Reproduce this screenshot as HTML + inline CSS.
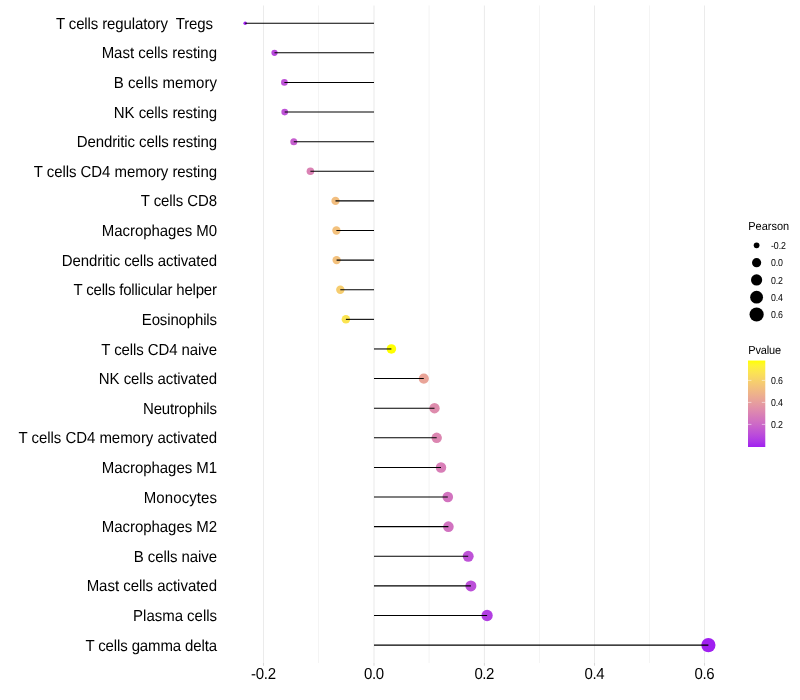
<!DOCTYPE html>
<html><head><meta charset="utf-8"><title>Lollipop</title>
<style>
html,body{margin:0;padding:0;background:#fff;}
body{width:800px;height:700px;overflow:hidden;}
svg{display:block;will-change:transform;}
text{font-family:"Liberation Sans",sans-serif;fill:#000;text-rendering:geometricPrecision;}
.ax{font-size:15px;}
.lt{font-size:11px;}
.ll{font-size:8.8px;}
</style></head><body>
<svg width="800" height="700" viewBox="0 0 800 700">
<defs><linearGradient id="g" x1="0" y1="0" x2="0" y2="1"><stop offset="0.000" stop-color="#FFFF00"/><stop offset="0.050" stop-color="#FEF530"/><stop offset="0.100" stop-color="#FCEB46"/><stop offset="0.150" stop-color="#FBE156"/><stop offset="0.200" stop-color="#F8D763"/><stop offset="0.250" stop-color="#F6CD6F"/><stop offset="0.300" stop-color="#F3C37A"/><stop offset="0.350" stop-color="#F0B984"/><stop offset="0.400" stop-color="#EDAF8E"/><stop offset="0.450" stop-color="#E9A597"/><stop offset="0.500" stop-color="#E59BA0"/><stop offset="0.550" stop-color="#E190A9"/><stop offset="0.600" stop-color="#DC86B1"/><stop offset="0.650" stop-color="#D67BB9"/><stop offset="0.700" stop-color="#D171C1"/><stop offset="0.750" stop-color="#CA66C9"/><stop offset="0.800" stop-color="#C35AD1"/><stop offset="0.850" stop-color="#BC4ED9"/><stop offset="0.900" stop-color="#B441E1"/><stop offset="0.950" stop-color="#AA33E8"/><stop offset="1.000" stop-color="#A020F0"/></linearGradient></defs>
<line x1="263.50" y1="5.5" x2="263.50" y2="663.0" stroke="#EBEBEB" stroke-width="1.07"/>
<line x1="263.50" y1="663.0" x2="263.50" y2="665.75" stroke="#D9D9D9" stroke-width="1.07"/>
<line x1="318.50" y1="5.5" x2="318.50" y2="663.0" stroke="#EBEBEB" stroke-width="0.53"/>
<line x1="374.00" y1="5.5" x2="374.00" y2="663.0" stroke="#EBEBEB" stroke-width="1.07"/>
<line x1="374.00" y1="663.0" x2="374.00" y2="665.75" stroke="#D9D9D9" stroke-width="1.07"/>
<line x1="429.10" y1="5.5" x2="429.10" y2="663.0" stroke="#EBEBEB" stroke-width="0.53"/>
<line x1="484.40" y1="5.5" x2="484.40" y2="663.0" stroke="#EBEBEB" stroke-width="1.07"/>
<line x1="484.40" y1="663.0" x2="484.40" y2="665.75" stroke="#D9D9D9" stroke-width="1.07"/>
<line x1="539.50" y1="5.5" x2="539.50" y2="663.0" stroke="#EBEBEB" stroke-width="0.53"/>
<line x1="594.50" y1="5.5" x2="594.50" y2="663.0" stroke="#EBEBEB" stroke-width="1.07"/>
<line x1="594.50" y1="663.0" x2="594.50" y2="665.75" stroke="#D9D9D9" stroke-width="1.07"/>
<line x1="649.50" y1="5.5" x2="649.50" y2="663.0" stroke="#EBEBEB" stroke-width="0.53"/>
<line x1="704.50" y1="5.5" x2="704.50" y2="663.0" stroke="#EBEBEB" stroke-width="1.07"/>
<line x1="704.50" y1="663.0" x2="704.50" y2="665.75" stroke="#D9D9D9" stroke-width="1.07"/>
<circle cx="245.20" cy="23.20" r="1.78" fill="#A020F0"/>
<circle cx="274.50" cy="52.81" r="3.12" fill="#B848DC"/>
<circle cx="284.40" cy="82.43" r="3.33" fill="#BE52D7"/>
<circle cx="284.70" cy="112.05" r="3.33" fill="#BE52D7"/>
<circle cx="293.80" cy="141.66" r="3.50" fill="#C65ECF"/>
<circle cx="310.40" cy="171.27" r="3.78" fill="#DA82B4"/>
<circle cx="335.50" cy="200.89" r="4.13" fill="#F2BE7F"/>
<circle cx="336.40" cy="230.50" r="4.14" fill="#F3C17D"/>
<circle cx="336.60" cy="260.12" r="4.15" fill="#F3C17D"/>
<circle cx="340.30" cy="289.73" r="4.19" fill="#F6CD6F"/>
<circle cx="345.90" cy="319.35" r="4.26" fill="#FBE451"/>
<circle cx="391.40" cy="348.96" r="4.77" fill="#FFFF00"/>
<circle cx="423.80" cy="378.58" r="5.09" fill="#E9A498"/>
<circle cx="434.50" cy="408.19" r="5.19" fill="#DE8CAD"/>
<circle cx="436.70" cy="437.81" r="5.21" fill="#DC86B1"/>
<circle cx="441.00" cy="467.42" r="5.24" fill="#D87EB7"/>
<circle cx="447.80" cy="497.04" r="5.30" fill="#D273BF"/>
<circle cx="448.40" cy="526.65" r="5.31" fill="#D172C0"/>
<circle cx="468.20" cy="556.27" r="5.48" fill="#BE52D7"/>
<circle cx="470.90" cy="585.88" r="5.50" fill="#BC4FD9"/>
<circle cx="487.10" cy="615.50" r="5.63" fill="#B23EE2"/>
<circle cx="708.40" cy="645.12" r="7.11" fill="#A020F0"/>
<line x1="245.20" y1="23.20" x2="374.00" y2="23.20" stroke="#000" stroke-width="1.07"/>
<line x1="274.50" y1="52.81" x2="374.00" y2="52.81" stroke="#000" stroke-width="1.07"/>
<line x1="284.40" y1="82.43" x2="374.00" y2="82.43" stroke="#000" stroke-width="1.07"/>
<line x1="284.70" y1="112.05" x2="374.00" y2="112.05" stroke="#000" stroke-width="1.07"/>
<line x1="293.80" y1="141.66" x2="374.00" y2="141.66" stroke="#000" stroke-width="1.07"/>
<line x1="310.40" y1="171.27" x2="374.00" y2="171.27" stroke="#000" stroke-width="1.07"/>
<line x1="335.50" y1="200.89" x2="374.00" y2="200.89" stroke="#000" stroke-width="1.07"/>
<line x1="336.40" y1="230.50" x2="374.00" y2="230.50" stroke="#000" stroke-width="1.07"/>
<line x1="336.60" y1="260.12" x2="374.00" y2="260.12" stroke="#000" stroke-width="1.07"/>
<line x1="340.30" y1="289.73" x2="374.00" y2="289.73" stroke="#000" stroke-width="1.07"/>
<line x1="345.90" y1="319.35" x2="374.00" y2="319.35" stroke="#000" stroke-width="1.07"/>
<line x1="391.40" y1="348.96" x2="374.00" y2="348.96" stroke="#000" stroke-width="1.07"/>
<line x1="423.80" y1="378.58" x2="374.00" y2="378.58" stroke="#000" stroke-width="1.07"/>
<line x1="434.50" y1="408.19" x2="374.00" y2="408.19" stroke="#000" stroke-width="1.07"/>
<line x1="436.70" y1="437.81" x2="374.00" y2="437.81" stroke="#000" stroke-width="1.07"/>
<line x1="441.00" y1="467.42" x2="374.00" y2="467.42" stroke="#000" stroke-width="1.07"/>
<line x1="447.80" y1="497.04" x2="374.00" y2="497.04" stroke="#000" stroke-width="1.07"/>
<line x1="448.40" y1="526.65" x2="374.00" y2="526.65" stroke="#000" stroke-width="1.07"/>
<line x1="468.20" y1="556.27" x2="374.00" y2="556.27" stroke="#000" stroke-width="1.07"/>
<line x1="470.90" y1="585.88" x2="374.00" y2="585.88" stroke="#000" stroke-width="1.07"/>
<line x1="487.10" y1="615.50" x2="374.00" y2="615.50" stroke="#000" stroke-width="1.07"/>
<line x1="708.40" y1="645.12" x2="374.00" y2="645.12" stroke="#000" stroke-width="1.07"/>
<text transform="translate(217,29) scale(1,1.06)" text-anchor="end" class="ax" textLength="161.11" lengthAdjust="spacing" xml:space="preserve">T cells regulatory  Tregs </text>
<text transform="translate(217,58) scale(1,1.06)" text-anchor="end" class="ax" textLength="115.36" lengthAdjust="spacing" xml:space="preserve">Mast cells resting</text>
<text transform="translate(217,88) scale(1,1.06)" text-anchor="end" class="ax" textLength="103.26" lengthAdjust="spacing" xml:space="preserve">B cells memory</text>
<text transform="translate(217,118) scale(1,1.06)" text-anchor="end" class="ax" textLength="103.20" lengthAdjust="spacing" xml:space="preserve">NK cells resting</text>
<text transform="translate(217,147) scale(1,1.06)" text-anchor="end" class="ax" textLength="140.29" lengthAdjust="spacing" xml:space="preserve">Dendritic cells resting</text>
<text transform="translate(217,177) scale(1,1.06)" text-anchor="end" class="ax" textLength="183.18" lengthAdjust="spacing" xml:space="preserve">T cells CD4 memory resting</text>
<text transform="translate(217,206) scale(1,1.06)" text-anchor="end" class="ax" textLength="76.16" lengthAdjust="spacing" xml:space="preserve">T cells CD8</text>
<text transform="translate(217,236) scale(1,1.06)" text-anchor="end" class="ax" textLength="115.15" lengthAdjust="spacing" xml:space="preserve">Macrophages M0</text>
<text transform="translate(217,266) scale(1,1.06)" text-anchor="end" class="ax" textLength="155.30" lengthAdjust="spacing" xml:space="preserve">Dendritic cells activated</text>
<text transform="translate(217,295) scale(1,1.06)" text-anchor="end" class="ax" textLength="143.50" lengthAdjust="spacing" xml:space="preserve">T cells follicular helper</text>
<text transform="translate(217,325) scale(1,1.06)" text-anchor="end" class="ax" textLength="75.20" lengthAdjust="spacing" xml:space="preserve">Eosinophils</text>
<text transform="translate(217,355) scale(1,1.06)" text-anchor="end" class="ax" textLength="115.65" lengthAdjust="spacing" xml:space="preserve">T cells CD4 naive</text>
<text transform="translate(217,384) scale(1,1.06)" text-anchor="end" class="ax" textLength="118.22" lengthAdjust="spacing" xml:space="preserve">NK cells activated</text>
<text transform="translate(217,414) scale(1,1.06)" text-anchor="end" class="ax" textLength="74.04" lengthAdjust="spacing" xml:space="preserve">Neutrophils</text>
<text transform="translate(217,443) scale(1,1.06)" text-anchor="end" class="ax" textLength="198.43" lengthAdjust="spacing" xml:space="preserve">T cells CD4 memory activated</text>
<text transform="translate(217,473) scale(1,1.06)" text-anchor="end" class="ax" textLength="115.15" lengthAdjust="spacing" xml:space="preserve">Macrophages M1</text>
<text transform="translate(217,503) scale(1,1.06)" text-anchor="end" class="ax" textLength="73.27" lengthAdjust="spacing" xml:space="preserve">Monocytes</text>
<text transform="translate(217,532) scale(1,1.06)" text-anchor="end" class="ax" textLength="115.15" lengthAdjust="spacing" xml:space="preserve">Macrophages M2</text>
<text transform="translate(217,562) scale(1,1.06)" text-anchor="end" class="ax" textLength="83.22" lengthAdjust="spacing" xml:space="preserve">B cells naive</text>
<text transform="translate(217,591) scale(1,1.06)" text-anchor="end" class="ax" textLength="130.38" lengthAdjust="spacing" xml:space="preserve">Mast cells activated</text>
<text transform="translate(217,621) scale(1,1.06)" text-anchor="end" class="ax" textLength="83.93" lengthAdjust="spacing" xml:space="preserve">Plasma cells</text>
<text transform="translate(217,651) scale(1,1.06)" text-anchor="end" class="ax" textLength="131.57" lengthAdjust="spacing" xml:space="preserve">T cells gamma delta</text>
<text transform="translate(263.50,679) scale(1,1.06)" text-anchor="middle" class="ax" textLength="25.0" lengthAdjust="spacing">-0.2</text>
<text transform="translate(374.00,679) scale(1,1.06)" text-anchor="middle" class="ax" textLength="20.0" lengthAdjust="spacing">0.0</text>
<text transform="translate(484.40,679) scale(1,1.06)" text-anchor="middle" class="ax" textLength="20.0" lengthAdjust="spacing">0.2</text>
<text transform="translate(594.50,679) scale(1,1.06)" text-anchor="middle" class="ax" textLength="20.0" lengthAdjust="spacing">0.4</text>
<text transform="translate(704.50,679) scale(1,1.06)" text-anchor="middle" class="ax" textLength="20.0" lengthAdjust="spacing">0.6</text>
<text transform="translate(748.2,230) scale(1,1.06)" class="lt">Pearson</text>
<circle cx="756.6" cy="245.35" r="2.85" fill="#000"/>
<text transform="translate(771.0,249) scale(1,1.15)" class="ll" textLength="15.0" lengthAdjust="spacing">-0.2</text>
<circle cx="756.6" cy="262.63" r="4.59" fill="#000"/>
<text transform="translate(771.0,266) scale(1,1.15)" class="ll" textLength="12.0" lengthAdjust="spacing">0.0</text>
<circle cx="756.6" cy="279.91" r="5.61" fill="#000"/>
<text transform="translate(771.0,284) scale(1,1.15)" class="ll" textLength="12.0" lengthAdjust="spacing">0.2</text>
<circle cx="756.6" cy="297.19" r="6.41" fill="#000"/>
<text transform="translate(771.0,301) scale(1,1.15)" class="ll" textLength="12.0" lengthAdjust="spacing">0.4</text>
<circle cx="756.6" cy="314.47" r="7.09" fill="#000"/>
<text transform="translate(771.0,318) scale(1,1.15)" class="ll" textLength="12.0" lengthAdjust="spacing">0.6</text>
<text transform="translate(748.2,354) scale(1,1.06)" class="lt" textLength="33.0" lengthAdjust="spacing">Pvalue</text>
<rect x="748.0" y="360.55" width="17.28" height="86.44999999999999" fill="url(#g)"/>
<line x1="748.0" y1="424.40" x2="751.46" y2="424.40" stroke="#fff" stroke-width="0.53"/>
<line x1="761.82" y1="424.40" x2="765.28" y2="424.40" stroke="#fff" stroke-width="0.53"/>
<text transform="translate(771.0,428) scale(1,1.15)" class="ll" textLength="12.0" lengthAdjust="spacing">0.2</text>
<line x1="748.0" y1="402.40" x2="751.46" y2="402.40" stroke="#fff" stroke-width="0.53"/>
<line x1="761.82" y1="402.40" x2="765.28" y2="402.40" stroke="#fff" stroke-width="0.53"/>
<text transform="translate(771.0,406) scale(1,1.15)" class="ll" textLength="12.0" lengthAdjust="spacing">0.4</text>
<line x1="748.0" y1="380.40" x2="751.46" y2="380.40" stroke="#fff" stroke-width="0.53"/>
<line x1="761.82" y1="380.40" x2="765.28" y2="380.40" stroke="#fff" stroke-width="0.53"/>
<text transform="translate(771.0,384) scale(1,1.15)" class="ll" textLength="12.0" lengthAdjust="spacing">0.6</text>
</svg>
</body></html>
